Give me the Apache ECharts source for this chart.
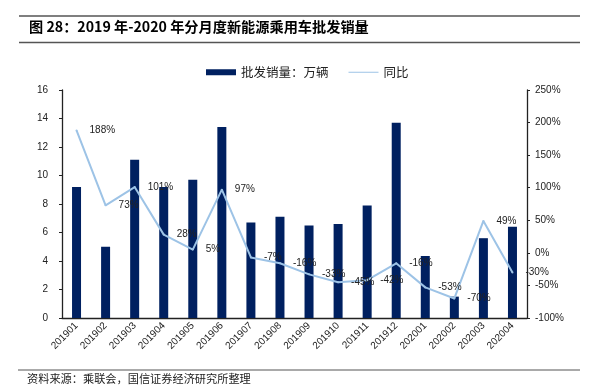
<!DOCTYPE html>
<html><head><meta charset="utf-8">
<script src="https://cdn.jsdelivr.net/npm/echarts@6/dist/echarts.min.js"></script>
<style>html,body{margin:0;padding:0;background:#fff}#c{width:595px;height:388px}</style>
</head><body><div id="c"></div>
<script>
const categories = ['201901','201902','201903','201904','201905','201906','201907','201908','201909','201910','201911','201912','202001','202002','202003','202004'];
const salesVolume = [9.2, 5.0, 11.1, 9.2, 9.7, 13.4, 6.7, 7.1, 6.5, 6.6, 7.9, 13.7, 4.35, 1.5, 5.6, 6.4];
const yoyPct = [188, 73, 101, 28, 5, 97, -7, -16, -33, -45, -42, -16, -53, -70, 49, -30];
const leftTicks = {min: 0, max: 16, interval: 2};
const rightTicks = {min: -100, max: 250, interval: 50};
const barName = '批发销量：万辆';
const lineName = '同比';
const titleText = '图 28：2019 年-2020 年分月度新能源乘用车批发销量';
const sourceText = '资料来源：乘联会，国信证券经济研究所整理';

const latin = '"Liberation Sans", Arial, sans-serif';
const cjk = '"Noto Sans CJK SC", sans-serif';
const lineColor = '#9DC3E6';
const chart = echarts.init(document.getElementById('c'), null, {renderer: 'canvas'});
chart.setOption({
  animation: false,
  backgroundColor: '#fff',
  graphic: [
    {type: 'line', shape: {x1: 19, y1: 16, x2: 580, y2: 16}, style: {stroke: '#555', lineWidth: 1.3}},
    {type: 'line', shape: {x1: 19, y1: 42.5, x2: 580, y2: 42.5}, style: {stroke: '#555', lineWidth: 1.3}},
    {type: 'text', left: 29, top: 20, style: {text: titleText, font: 'bold 14.2px ' + cjk, fill: '#000'}},
    {type: 'line', shape: {x1: 18, y1: 370, x2: 580, y2: 370}, style: {stroke: '#555', lineWidth: 1}},
    {type: 'text', left: 27, top: 373, style: {text: sourceText, font: '11.2px ' + cjk, fill: '#222'}}
  ],
  legend: {
    top: 61, left: 201, itemGap: 20, itemWidth: 30, itemHeight: 6,
    textStyle: {fontFamily: cjk, fontSize: 12.5, color: '#222'},
    data: [
      {name: barName, icon: 'rect'},
      {name: lineName, icon: 'path://M0,0 L30,0 L30,1 L0,1 Z', itemStyle: {color: lineColor, opacity: 1}}
    ]
  },
  grid: {left: 62, right: 68, top: 90, bottom: 70},
  xAxis: {
    type: 'category', data: categories,
    axisLine: {lineStyle: {color: '#222', width: 1.3}},
    axisTick: {show: false},
    axisLabel: {rotate: 45, fontFamily: latin, fontSize: 10, color: '#222', margin: 6}
  },
  yAxis: [
    {type: 'value', min: leftTicks.min, max: leftTicks.max, interval: leftTicks.interval,
     axisLine: {show: true, lineStyle: {color: '#222', width: 1.3}},
     axisTick: {show: true, length: 3, lineStyle: {color: '#222'}},
     splitLine: {show: false},
     axisLabel: {fontFamily: latin, fontSize: 10, color: '#222', margin: 14}},
    {type: 'value', min: rightTicks.min, max: rightTicks.max, interval: rightTicks.interval, position: 'right',
     axisLine: {show: true, lineStyle: {color: '#222', width: 1.3}},
     axisTick: {show: true, length: 3, lineStyle: {color: '#222'}},
     splitLine: {show: false},
     axisLabel: {fontFamily: latin, fontSize: 10, color: '#222', margin: 8, formatter: '{value}%'}}
  ],
  series: [
    {name: barName, type: 'bar', yAxisIndex: 0, data: salesVolume, barWidth: 9,
     itemStyle: {color: '#002060'}},
    {name: lineName, type: 'line', yAxisIndex: 1, data: yoyPct,
     symbol: 'circle', symbolSize: 2, showSymbol: true, showAllSymbol: true,
     lineStyle: {color: lineColor, width: 2}, itemStyle: {color: lineColor},
     label: {show: true, position: 'right', distance: 12, formatter: '{c}%',
             fontFamily: latin, fontSize: 10, color: '#222'}}
  ]
});
</script></body></html>
